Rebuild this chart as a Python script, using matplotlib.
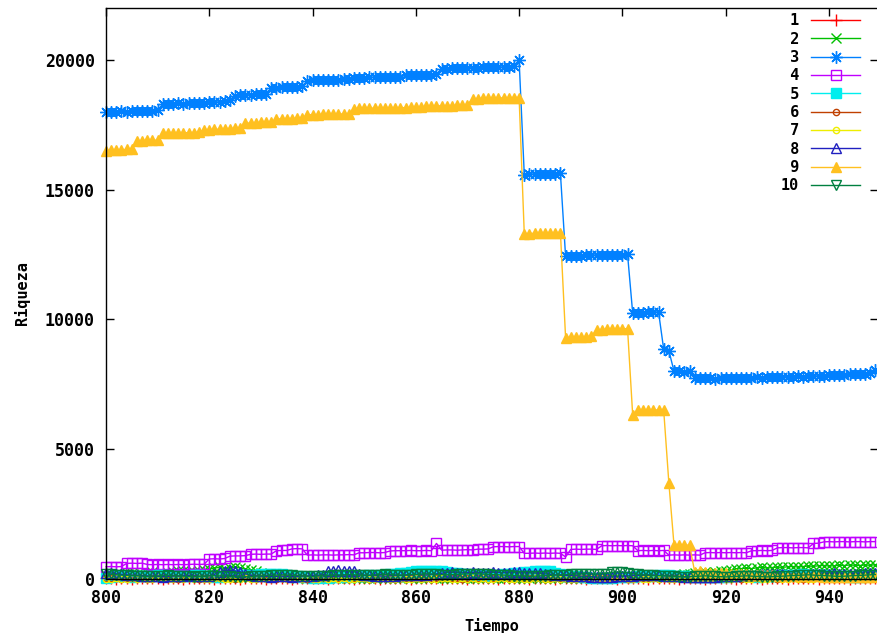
import numpy as np
import matplotlib
matplotlib.use("Agg")
import matplotlib.pyplot as plt

tiempo = list(range(800, 950))

s1 = [20, 30, 10, 40, 20, 10, 30, 20, 40, 30, 20, 10, 30, 40, 20,
      10, 30, 20, 50, 30, 20, 10, 40, 30, 20, 30, 10, 20, 40, 30,
      20, 10, 30, 20, 40, 30, 10, 20, 30, 20, 40, 30, 20, 10, 30,
      40, 20, 30, 10, 20, 30, 40, 20, 10, 30, 20, 40, 30, 20, 10,
      30, 20, 40, 30, 20, 10, 30, 50, 20, 30, 10, 20, 40, 30, 20,
      30, 10, 20, 40, 30, 20, 30, 10, 20, 30, 40, 20, 10, 30, 20,
      40, 30, 20, 10, 30, 20, 40, 30, 20, 10, 30, 20, 40, 20, 30,
      10, 20, 30, 40, 20, 30, 10, 20, 40, 30, 20, 10, 30, 20, 40,
      30, 20, 10, 30, 40, 20, 30, 10, 20, 30, 40, 20, 10, 30, 20,
      40, 30, 20, 10, 30, 20, 40, 30, 20, 10, 30, 20, 40, 30, 20]

s2 = [150, 180, 200, 160, 220, 250, 200, 180, 230, 260, 210, 190, 240, 280, 300,
      320, 280, 260, 300, 350, 380, 420, 450, 400, 430, 460, 420, 380, 350, 300,
      250, 200, 150, 120, 100, 80, 60, 50, 70, 40, 60, 30, 50, 40, 60,
      30, 50, 40, 60, 30, 50, 40, 30, 60, 40, 50, 30, 40, 60, 50,
      40, 30, 50, 60, 40, 50, 30, 40, 60, 50, 40, 30, 50, 40, 60,
      50, 40, 30, 60, 50, 40, 30, 50, 60, 40, 50, 30, 40, 60, 50,
      40, 30, 50, 60, 40, 50, 70, 60, 80, 70, 90, 80, 100, 90, 110,
      100, 120, 110, 130, 150, 140, 160, 180, 200, 220, 240, 260, 250, 270, 300,
      320, 340, 380, 400, 420, 400, 430, 450, 420, 440, 460, 450, 470, 480, 460,
      480, 500, 490, 510, 520, 500, 510, 530, 520, 540, 530, 520, 540, 530, 550]

s3 = [18000, 18010, 18000, 18020, 18010, 18030, 18020, 18030, 18040, 18030, 18060,
      18300, 18320, 18310, 18330, 18320, 18340, 18330, 18350, 18340, 18360, 18370, 18380, 18400, 18450,
      18620, 18640, 18650, 18660, 18680, 18690, 18700,
      18920, 18930, 18940, 18950, 18960, 18960, 18980,
      19200, 19210, 19220, 19230, 19230, 19240, 19240, 19250, 19260,
      19300, 19310, 19320, 19330, 19330, 19340, 19340, 19350, 19350, 19360,
      19400, 19410, 19410, 19420, 19420, 19430, 19440,
      19650, 19660, 19670, 19680, 19690, 19690, 19700, 19700, 19710, 19710, 19720, 19720, 19730, 19730, 19750,
      20000,
      15580, 15600, 15600, 15610, 15610, 15620, 15620, 15630,
      12430, 12450, 12450, 12460, 12470, 12480, 12480, 12490, 12490, 12500, 12500, 12500, 12510,
      10230, 10250, 10260, 10270, 10280, 10290,
      8850, 8800,
      8000, 8010, 7990, 8000,
      7760, 7740, 7730, 7740, 7720, 7730, 7740, 7730, 7750, 7740, 7760, 7750,
      7770, 7760, 7780, 7770, 7790, 7780, 7800, 7790, 7810, 7800, 7820, 7810,
      7830, 7840, 7850, 7860, 7870, 7860, 7880, 7890, 7880, 7900, 7920, 8050]

s4 = [470, 480, 470, 480,
      600, 610, 600, 610,
      560, 550, 560, 550, 560, 550, 560, 550, 560, 570, 560, 570,
      770, 780, 770, 790,
      880, 890, 890, 900,
      950, 960, 950, 960, 960,
      1090, 1100, 1100,
      1160, 1170, 1160,
      920, 930, 920, 930, 930, 920, 930, 930, 940, 930,
      1010, 1010, 1020, 1020, 1010, 1020,
      1080, 1090, 1090, 1090, 1100, 1090, 1090, 1100, 1090,
      1370,
      1110, 1120, 1120, 1110, 1120, 1130, 1120,
      1150, 1150, 1160,
      1240, 1250, 1250, 1240, 1250, 1250,
      990, 990, 1000, 990, 1000, 990, 1000, 990,
      850,
      1140, 1150, 1140, 1150, 1150, 1140,
      1280, 1290, 1280, 1290, 1280, 1290, 1280,
      1090, 1100, 1090, 1100, 1090, 1100,
      920, 930, 920, 930, 920, 930, 920,
      1010, 1020, 1010, 1020, 1010, 1020, 1010, 1020, 1010,
      1090, 1090, 1100, 1090, 1100,
      1200, 1210, 1210, 1200, 1210, 1210, 1200,
      1370, 1380,
      1430, 1440, 1430, 1440, 1440, 1430, 1440, 1440, 1430, 1440, 1440]

s5 = [50, 80, 100, 120, 100, 90, 110, 130, 120, 100, 140, 150, 130, 120, 100,
      110, 130, 150, 140, 120, 100, 80, 90, 110, 130, 150, 140, 160, 150, 170,
      180, 200, 190, 210, 180, 150, 120, 100, 80, 60, 50, 40, 60, 50, 70,
      80, 100, 90, 110, 130, 120, 140, 130, 150, 160, 180, 200, 220, 250, 280,
      300, 310, 300, 320, 310, 300, 280, 250, 220, 200, 180, 160, 150, 140, 130,
      150, 170, 190, 210, 230, 250, 260, 280, 300, 310, 300, 290, 250, 200, 150,
      120, 100, 80, 60, 50, 40, 30, 40, 50, 60, 70, 80, 90, 100, 110,
      120, 130, 140, 150, 140, 130, 120, 110, 100, 90, 80, 70, 60, 70, 80,
      90, 100, 110, 120, 110, 100, 90, 100, 110, 120, 130, 140, 150, 160, 170,
      180, 170, 160, 150, 140, 130, 120, 110, 100, 90, 80, 90, 100, 110, 120]

s6 = [30, 20, 40, 10, 30, 50, 20, 30, 10, 40, 20, 30, 50, 20, 10,
      40, 20, 30, 10, 20, 40, 30, 20, 50, 30, 10, 20, 30, 40, 20,
      30, 50, 20, 10, 30, 20, 40, 30, 20, 10, 30, 40, 20, 30, 50,
      20, 30, 10, 40, 30, 20, 10, 30, 40, 20, 30, 10, 20, 40, 30,
      20, 40, 30, 10, 20, 30, 40, 20, 30, 10, 30, 20, 40, 30, 10,
      20, 30, 40, 20, 10, 30, 20, 40, 30, 20, 10, 30, 40, 20, 30,
      10, 20, 30, 40, 20, 30, 10, 20, 30, 40, 20, 10, 30, 20, 40,
      30, 20, 10, 30, 40, 20, 30, 20, 10, 30, 40, 20, 30, 10, 20,
      40, 30, 20, 10, 30, 20, 40, 30, 20, 30, 10, 20, 40, 30, 20,
      10, 30, 20, 40, 30, 20, 10, 30, 20, 40, 30, 20, 10, 30, 40]

s7 = [10, 0, 20, 10, 0, 30, 10, 20, 0, 10, 30, 20, 10, 0, 20,
      10, 30, 0, 20, 10, 0, 20, 30, 10, 0, 20, 10, 30, 0, 10,
      20, 0, 10, 30, 20, 10, 0, 20, 10, 30, 0, 10, 20, 0, 30,
      10, 20, 0, 10, 30, 20, 0, 10, 20, 30, 10, 0, 20, 10, 0,
      30, 10, 20, 0, 10, 20, 30, 0, 10, 20, 0, 30, 10, 20, 0,
      10, 20, 30, 0, 10, 20, 0, 10, 30, 20, 10, 0, 20, 10, 30,
      0, 10, 20, 0, 30, 10, 20, 0, 10, 20, 30, 10, 0, 20, 10,
      0, 30, 10, 20, 0, 10, 20, 30, 0, 10, 20, 0, 30, 10, 20,
      0, 10, 20, 30, 0, 10, 20, 0, 10, 30, 20, 10, 0, 20, 10,
      30, 0, 10, 20, 0, 30, 10, 20, 0, 10, 20, 30, 10, 0, 20]

s8 = [250, 230, 200, 180, 160, 150, 140, 130, 120, 110, 100, 90, 100, 110, 120,
      130, 140, 120, 110, 100, 120, 180, 280, 320, 330, 310, 280, 200, 150, 120,
      110, 100, 90, 100, 110, 100, 90, 100, 110, 120, 130, 140, 150, 300, 320,
      330, 320, 310, 300, 200, 150, 140, 130, 120, 110, 120, 130, 140, 150, 160,
      170, 160, 150, 180, 200, 220, 250, 260, 250, 240, 250, 260, 250, 240, 250,
      260, 250, 240, 250, 260, 270, 250, 240, 230, 220, 200, 180, 160, 150, 140,
      130, 120, 110, 100, 90, 80, 70, 80, 90, 100, 110, 120, 130, 140, 150,
      160, 150, 140, 130, 120, 110, 100, 90, 80, 70, 60, 70, 80, 90, 100,
      110, 120, 130, 140, 150, 160, 170, 180, 190, 200, 190, 180, 170, 160, 150,
      160, 170, 180, 190, 200, 210, 220, 210, 200, 190, 200, 210, 220, 230, 240]

s9 = [16500, 16520, 16530, 16540, 16550, 16560,
      16880, 16890, 16900, 16900, 16910,
      17170, 17180, 17180, 17190, 17190, 17200, 17200, 17210,
      17300, 17310, 17320, 17330, 17340, 17350, 17360, 17370,
      17560, 17570, 17580, 17590, 17590, 17600,
      17720, 17730, 17740, 17740, 17750, 17760,
      17880, 17890, 17890, 17900, 17900, 17910, 17910, 17920, 17920,
      18120, 18130, 18130, 18140, 18140, 18150, 18150, 18150, 18160, 18160, 18160, 18170, 18170, 18170,
      18220, 18220, 18230, 18230, 18240, 18240, 18250, 18250, 18260,
      18500, 18510, 18520, 18520, 18530, 18530, 18540, 18540, 18550, 18550,
      13300, 13310, 13320, 13320, 13330, 13330, 13340, 13350,
      9300, 9310, 9320, 9330, 9340, 9350,
      9600, 9610, 9620, 9630, 9640, 9650, 9640,
      6300,
      6500, 6510, 6520, 6520, 6510, 6500,
      3700,
      1300, 1320, 1310, 1300,
      280, 300, 260, 250, 240, 230, 220, 210, 200, 190, 180, 170,
      160, 150, 140, 140, 130, 130, 120, 120, 110, 110, 100, 100,
      100, 90, 90, 90, 80, 80, 80, 80, 70, 70, 70, 70]

s10 = [200, 180, 160, 150, 140, 130, 120, 110, 100, 110, 120, 130, 140, 130, 120,
       110, 100, 90, 100, 110, 120, 130, 120, 110, 100, 90, 80, 90, 100, 110,
       120, 130, 140, 150, 160, 150, 140, 130, 120, 110, 100, 110, 120, 130, 140,
       150, 160, 170, 160, 150, 140, 150, 160, 170, 180, 170, 160, 150, 160, 170,
       180, 190, 200, 190, 180, 170, 160, 170, 180, 190, 200, 210, 200, 190, 180,
       170, 160, 150, 140, 130, 120, 110, 100, 110, 120, 130, 140, 150, 160, 170,
       180, 190, 200, 210, 200, 190, 200, 210, 260, 270, 260, 250, 200, 180, 160,
       150, 140, 130, 120, 110, 100, 90, 80, 90, 100, 110, 120, 110, 100, 90,
       80, 90, 100, 110, 120, 110, 100, 90, 80, 90, 100, 110, 120, 130, 140,
       150, 160, 150, 140, 130, 120, 110, 100, 110, 120, 130, 140, 150, 160, 170]

series = [s1, s2, s3, s4, s5, s6, s7, s8, s9, s10]
labels = [" 1", " 2", " 3", " 4", " 5", " 6", " 7", " 8", " 9", "10"]
colors = ["#ff0000", "#00c000", "#0080ff", "#c000ff", "#00eeee",
          "#c04000", "#eeee00", "#2020c0", "#ffc020", "#008040"]
markers = ["+", "x", (8, 2, 0), "s", "s", "o", "o", "^", "^", "v"]
filled = [True, True, True, False, True, False, False, False, True, False]
msizes = [8, 6.5, 9, 6.5, 6.5, 4.5, 4.5, 7, 7.5, 7]

FONT = "DejaVu Sans Mono"
plt.rcParams["font.family"] = FONT
plt.rcParams["font.weight"] = "bold"

fig = plt.figure(figsize=(8.77, 6.33), dpi=100)
ax = fig.add_axes([106 / 877, (633 - 579) / 633, (878 - 106) / 877, (579 - 8) / 633])

for ys, lab, c, m, f, ms in zip(series, labels, colors, markers, filled, msizes):
    kw = dict(color=c, lw=1.0, marker=m, markersize=ms, label=lab, clip_on=False)
    if f:
        kw.update(markerfacecolor=c, markeredgecolor=c, markeredgewidth=1.0)
    else:
        kw.update(markerfacecolor="none", markeredgecolor=c, markeredgewidth=1.0)
    ax.plot(tiempo, ys, **kw)

ax.set_xlim(800, 949.5)
ax.set_ylim(0, 22000)
ax.set_xticks([800, 820, 840, 860, 880, 900, 920, 940])
ax.set_yticks([0, 5000, 10000, 15000, 20000])
ax.tick_params(direction="in", length=6, width=1, top=True, right=True,
               labelsize=12)
ax.tick_params(axis="x", pad=7)
ax.tick_params(axis="y", pad=8)
for lbl in ax.get_xticklabels() + ax.get_yticklabels():
    lbl.set_fontweight("bold")
for sp in ax.spines.values():
    sp.set_linewidth(1.0)
    sp.set_color("black")

ax.set_xlabel("Tiempo", fontsize=11, fontweight="bold", labelpad=8)
ax.set_ylabel("Riqueza", fontsize=11, fontweight="bold", labelpad=11)

leg = ax.legend(loc="upper right", bbox_to_anchor=(0.98, 0.995), frameon=False,
                markerfirst=False, handlelength=3.2, handletextpad=0.8,
                labelspacing=0.22, borderaxespad=0.0, borderpad=0.15,
                prop={"family": FONT, "weight": "bold", "size": 11})

fig.savefig("out.png", dpi=100)
